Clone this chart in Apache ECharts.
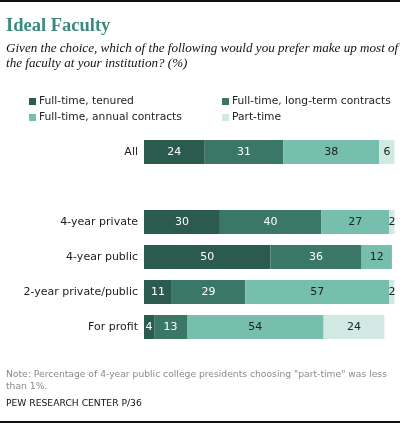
<!DOCTYPE html>
<html>
<head>
<meta charset="utf-8">
<script src="https://cdn.jsdelivr.net/npm/echarts@6/dist/echarts.min.js"></script>
<style>
  html, body { margin: 0; padding: 0; background: #fff; }
  #chart { width: 405px; height: 424px; }
</style>
</head>
<body>
<div id="chart"></div>
<script>
// categories (blank row separates "All" from the groups)
var categories = ['All', '', '4-year private', '4-year public', '2-year private/public', 'For profit'];

// series values (%)
var tenured   = [24, null, 30, 50, 11, 4];
var longTerm  = [31, null, 40, 36, 29, 13];
var annual    = [38, null, 27, 12, 57, 54];
var partTime  = [6,  null, 2,  0,  2,  24];

var seriesNames = ['Full-time, tenured', 'Full-time, long-term contracts', 'Full-time, annual contracts', 'Part-time'];
var seriesColors = ['#2b5a4e', '#3a7767', '#76bfae', '#d0e9e3'];
var labelColors = ['#fff', '#fff', '#222', '#222'];

var chart = echarts.init(document.getElementById('chart'));

var font = 'DejaVu Sans';

function makeSeries(i, data) {
  return {
    name: seriesNames[i],
    type: 'bar',
    stack: 'total',
    barWidth: 24,
    data: data,
    itemStyle: { color: seriesColors[i] },
    label: {
      show: true,
      position: 'inside',
      color: labelColors[i],
      fontFamily: font,
      fontSize: 11,
      formatter: function (p) { return p.value >= 1 ? p.value : ''; }
    },
    emphasis: { disabled: true }
  };
}

// one legend per item so the 2x2 columns line up
var legendPos = [[24, 91], [217, 91], [24, 107], [217, 107]];
var legends = seriesNames.map(function (n, i) {
  return {
    data: [n],
    left: legendPos[i][0],
    top: legendPos[i][1],
    icon: 'rect',
    itemWidth: 7,
    itemHeight: 7,
    itemGap: 3,
    selectedMode: false,
    textStyle: { fontFamily: font, fontSize: 10.7, color: '#222', padding: [0, 0, 0, -2] }
  };
});

var option = {
  animation: false,
  title: [
    {
      text: 'Ideal Faculty',
      left: 1, top: 12,
      textStyle: { fontFamily: 'Liberation Serif', fontWeight: 'bold', fontSize: 18.5, color: '#3b8a7d' }
    },
    {
      text: 'Given the choice, which of the following would you prefer make up most of\nthe faculty at your institution? (%)',
      left: 1, top: 36,
      textStyle: { fontFamily: 'Liberation Serif', fontStyle: 'italic', fontWeight: 'normal', fontSize: 13.1, lineHeight: 15, color: '#111' }
    },
    {
      text: 'Note: Percentage of 4-year public college presidents choosing "part-time" was less\nthan 1%.',
      left: 1, top: 364,
      textStyle: { fontFamily: font, fontWeight: 'normal', fontSize: 9.2, lineHeight: 12, color: '#8a8a8a' }
    },
    {
      text: 'PEW RESEARCH CENTER P/36',
      left: 1, top: 394,
      textStyle: { fontFamily: font, fontWeight: 'normal', fontSize: 9.2, color: '#111' }
    }
  ],
  legend: legends,
  graphic: [
    { type: 'rect', shape: { x: 0, y: 0, width: 400, height: 2 }, style: { fill: '#111' } },
    { type: 'rect', shape: { x: 0, y: 421, width: 400, height: 2 }, style: { fill: '#111' } }
  ],
  grid: { left: 144, right: 8, top: 134.5, bottom: 79.5, containLabel: false },
  xAxis: {
    type: 'value',
    min: 0,
    max: 100,
    show: false
  },
  yAxis: {
    type: 'category',
    data: categories,
    inverse: true,
    axisLine: { show: false },
    axisTick: { show: false },
    axisLabel: { fontFamily: font, fontSize: 11, color: '#222', margin: 6 }
  },
  series: [
    makeSeries(0, tenured),
    makeSeries(1, longTerm),
    makeSeries(2, annual),
    makeSeries(3, partTime)
  ]
};

chart.setOption(option);
</script>
</body>
</html>
